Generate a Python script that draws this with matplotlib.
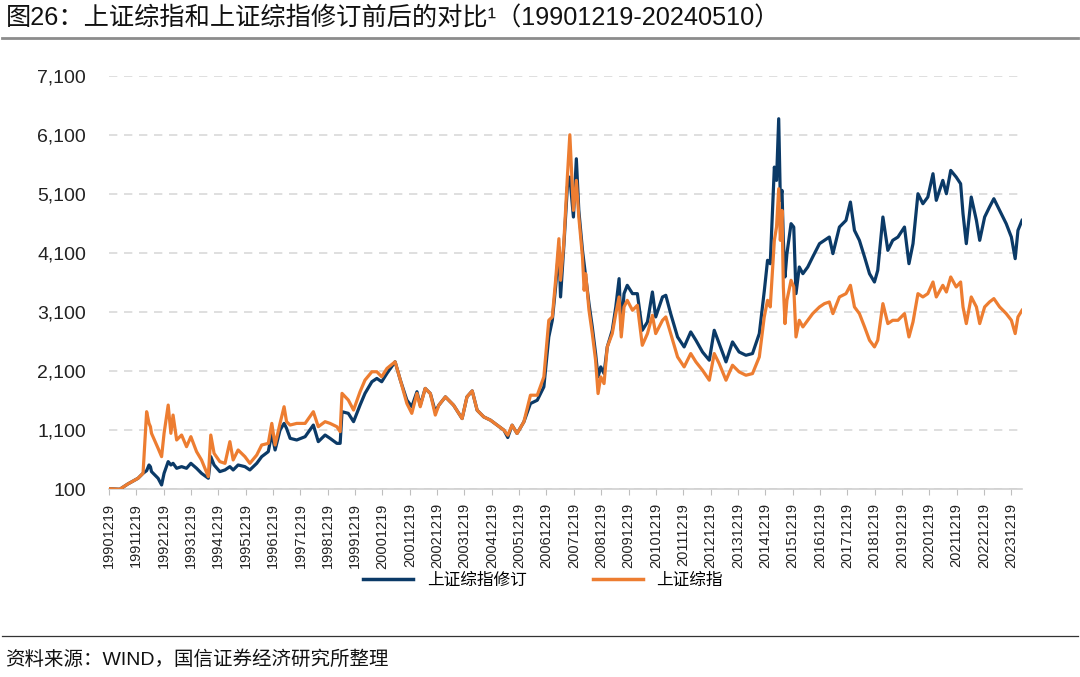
import matplotlib
matplotlib.use("Agg")
import matplotlib.pyplot as plt
from matplotlib.ticker import FuncFormatter, FixedLocator
from matplotlib.lines import Line2D
import pandas as pd

plt.rcParams['font.family'] = ['Liberation Sans', 'Noto Sans CJK SC', 'DejaVu Sans']

title_text = "图26：上证综指和上证综指修订前后的对比¹（19901219-20240510）"
source_text = "资料来源：WIND，国信证券经济研究所整理"
series_names = ["上证综指修订", "上证综指"]

dates = [
    "1990-12-19", "1991-05-12", "1991-08-29", "1992-01-11", "1992-03-18", "1992-05-05",
    "1992-06-06", "1992-06-25", "1992-07-09", "1992-10-05", "1992-11-21", "1992-12-24",
    "1993-02-17", "1993-03-25", "1993-04-23", "1993-06-10", "1993-08-15", "1993-10-20",
    "1993-12-17", "1994-03-03", "1994-05-08", "1994-08-07", "1994-09-09", "1994-10-23",
    "1995-01-08", "1995-03-18", "1995-05-22", "1995-07-05", "1995-09-09", "1995-12-09",
    "1996-02-13", "1996-05-15", "1996-07-20", "1996-10-16", "1996-12-02", "1997-01-15",
    "1997-03-22", "1997-05-15", "1997-06-17", "1997-08-04", "1997-10-31", "1998-02-20",
    "1998-06-10", "1998-08-15", "1998-11-14", "1999-01-19", "1999-04-20", "1999-06-03",
    "1999-06-28", "1999-09-20", "1999-11-29", "2000-02-24", "2000-04-30", "2000-07-31",
    "2000-10-05", "2000-12-09", "2001-02-17", "2001-06-06", "2001-08-15", "2001-11-10",
    "2002-01-15", "2002-03-25", "2002-05-08", "2002-07-13", "2002-09-20", "2002-11-25",
    "2003-01-11", "2003-04-09", "2003-07-27", "2003-11-18", "2004-01-22", "2004-04-01",
    "2004-06-06", "2004-09-02", "2004-12-02", "2005-02-28", "2005-05-30", "2005-07-20",
    "2005-09-16", "2005-11-21", "2006-02-20", "2006-05-19", "2006-08-18", "2006-11-14",
    "2007-01-19", "2007-03-07", "2007-04-20", "2007-06-03", "2007-06-25", "2007-08-07",
    "2007-09-24", "2007-10-27", "2007-12-14", "2008-01-22", "2008-02-24", "2008-04-13",
    "2008-05-05", "2008-05-26", "2008-07-09", "2008-08-22", "2008-10-05", "2008-11-07",
    "2008-12-13", "2009-01-26", "2009-03-10", "2009-05-16", "2009-07-02", "2009-08-15",
    "2009-09-13", "2009-10-20", "2009-12-02", "2010-02-10", "2010-04-16", "2010-06-21",
    "2010-08-29", "2010-11-03", "2010-12-17", "2011-03-18", "2011-05-01", "2011-07-05",
    "2011-10-05", "2012-01-01", "2012-03-29", "2012-06-06", "2012-09-02", "2012-12-02",
    "2013-02-06", "2013-04-13", "2013-07-13", "2013-10-08", "2014-01-04", "2014-04-05",
    "2014-07-02", "2014-10-01", "2014-12-06", "2015-01-19", "2015-02-24", "2015-04-20",
    "2015-05-19", "2015-06-17", "2015-07-09", "2015-07-31", "2015-08-18", "2015-09-09",
    "2015-10-05", "2015-11-29", "2016-01-04", "2016-02-03", "2016-03-18", "2016-05-05",
    "2016-07-09", "2016-09-13", "2016-12-13", "2017-02-17", "2017-04-23", "2017-06-10",
    "2017-09-05", "2017-12-02", "2018-01-30", "2018-03-25", "2018-05-30", "2018-08-07",
    "2018-10-12", "2018-12-17", "2019-01-30", "2019-04-09", "2019-06-14", "2019-08-18",
    "2019-10-27", "2020-01-22", "2020-03-22", "2020-05-15", "2020-07-20", "2020-09-24",
    "2020-11-29", "2021-02-06", "2021-03-22", "2021-06-17", "2021-08-04", "2021-10-01",
    "2021-12-13", "2022-02-10", "2022-03-14", "2022-04-27", "2022-07-02", "2022-09-09",
    "2022-10-23", "2022-12-28", "2023-03-03", "2023-04-30", "2023-07-16", "2023-10-12",
    "2023-12-20", "2024-02-09", "2024-03-17", "2024-05-10",
]

sse_revised = [
    110, 100, 190, 286, 370, 415,
    511, 480, 399, 286, 173, 370,
    568, 511, 539, 455, 483, 455,
    539, 455, 370, 286, 652, 511,
    399, 427, 483, 427, 511, 483,
    427, 539, 652, 737, 1047, 765,
    1103, 1215, 1131, 962, 934, 990,
    1187, 906, 1018, 962, 877, 877,
    1413, 1385, 1244, 1525, 1723, 1920,
    1976, 1920, 2061, 2258, 1948, 1610,
    1497, 1751, 1520, 1807, 1720, 1413,
    1523, 1664, 1523, 1297, 1664, 1765,
    1438, 1325, 1269, 1185, 1100, 976,
    1185, 1044, 1241, 1551, 1607, 1833,
    2678, 2960, 3524, 4200, 3355, 4200,
    5215, 5384, 4708, 5694, 4820, 4144,
    3919, 3693, 3242, 2848, 2397, 2002,
    2171, 2058, 2509, 2791, 3186, 3665,
    2791, 3411, 3552, 3411, 3411, 2791,
    2932, 3439, 3017, 3355, 3383, 3073,
    2678, 2509, 2763, 2622, 2424, 2284,
    2791, 2566, 2256, 2594, 2424, 2368,
    2397, 2735, 3450, 3975, 3918, 5553,
    5328, 6371, 4990, 5159, 4313, 3693,
    4088, 4595, 4538, 3411, 3862, 3749,
    3862, 4031, 4257, 4313, 4369, 4088,
    4538, 4651, 4961, 4482, 4313, 4031,
    3749, 3608, 3806, 4708, 4144, 4313,
    4369, 4538, 3918, 4257, 5102, 4933,
    5046, 5441, 4990, 5328, 5102, 5497,
    5384, 5271, 4764, 4257, 5046, 4651,
    4313, 4708, 4877, 5018, 4820, 4595,
    4369, 4003, 4482, 4651,
]

sse = [
    110, 100, 190, 286, 370, 1413,
    1215, 1159, 1047, 793, 652, 1047,
    1525, 1047, 1356, 934, 1018, 821,
    990, 737, 596, 314, 1018, 708,
    568, 539, 906, 596, 765, 652,
    539, 680, 849, 877, 1215, 849,
    1215, 1497, 1244, 1187, 1215, 1215,
    1413, 1159, 1244, 1215, 1159, 1075,
    1723, 1610, 1441, 1751, 1948, 2089,
    2089, 2004, 2145, 2258, 1948, 1553,
    1385, 1723, 1497, 1807, 1720, 1356,
    1523, 1664, 1523, 1297, 1664, 1765,
    1438, 1325, 1269, 1185, 1100, 1015,
    1185, 1044, 1241, 1692, 1692, 2002,
    2960, 3017, 3637, 4341, 3637, 4257,
    5384, 6100, 4820, 5328, 4708, 4031,
    3468, 3749, 3129, 2735, 2284, 1720,
    2002, 1889, 2509, 2735, 3073, 3355,
    2678, 3186, 3298, 3129, 3214, 2537,
    2735, 3045, 2735, 2960, 3017, 2735,
    2340, 2171, 2397, 2256, 2115, 1946,
    2397, 2227, 1946, 2199, 2087, 2030,
    2058, 2340, 3017, 3298, 3186, 4313,
    4539, 5187, 4313, 4820, 3524, 2904,
    3298, 3637, 3524, 2678, 2960, 2848,
    2960, 3073, 3186, 3242, 3270, 3073,
    3355, 3411, 3552, 3186, 3073, 2848,
    2622, 2509, 2622, 3242, 2904, 2960,
    2960, 3073, 2678, 2932, 3411, 3355,
    3411, 3608, 3355, 3552, 3439, 3693,
    3524, 3608, 3186, 2904, 3355, 3186,
    2904, 3186, 3270, 3327, 3186, 3073,
    2960, 2735, 3017, 3129,
]

y_ticks = [100, 1100, 2100, 3100, 4100, 5100, 6100, 7100]
x_tick_years = list(range(1990, 2024))

blue = "#0B3A67"
orange = "#ED7D31"

d = pd.to_datetime(dates)

fig = plt.figure(figsize=(10.8, 6.77), dpi=100)
ax = fig.add_axes([0.1009, 0.2773, 0.8454, 0.6109])

ax.plot(d, sse_revised, color=blue, lw=2.3, zorder=3)
ax.plot(d, sse, color=orange, lw=2.3, zorder=4)

ax.set_xlim(pd.Timestamp("1990-12-19"), pd.Timestamp("2024-05-10"))
ax.set_ylim(100, 7100)

ax.yaxis.set_major_locator(FixedLocator(y_ticks))
ax.yaxis.set_major_formatter(FuncFormatter(lambda v, p: f"{int(v):,}"))
ax.tick_params(axis='y', length=0, pad=16.5, labelsize=14, labelcolor="#222222")
ax.grid(axis='y', color="#d9d9d9", linestyle=(0, (5, 4)), linewidth=1.2)

xt = [pd.Timestamp(f"{y}-12-19") for y in x_tick_years]
ax.set_xticks(xt)
ax.set_xticklabels([f"{y}1219" for y in x_tick_years], rotation=90)
ax.tick_params(axis='x', length=4, color="#bfbfbf", labelsize=10.5, pad=6, labelcolor="#222222")

for s in ["top", "right", "left"]:
    ax.spines[s].set_visible(False)
ax.spines["bottom"].set_color("#d0d0d0")
ax.spines["bottom"].set_linewidth(1.2)

handles = [Line2D([0], [0], color=blue, lw=2.5), Line2D([0], [0], color=orange, lw=2.5)]
fig.legend(handles, series_names, loc="center", bbox_to_anchor=(0.503, 0.143), ncol=2,
           frameon=False, handlelength=3.0, columnspacing=4.0,
           prop={'family': ['Noto Sans CJK SC'], 'size': 12})

fig.text(0.005, 0.973, title_text, fontsize=18.2, va="center", ha="left", color="#111111",
         family=['Liberation Sans', 'Noto Sans CJK SC'])
fig.add_artist(Line2D([0.002, 0.998], [1 - 38 / 677, 1 - 38 / 677], color="#8c8c8c", lw=2.0))
fig.add_artist(Line2D([0.002, 0.998], [1 - 636 / 677, 1 - 636 / 677], color="#333333", lw=0.9))
fig.text(0.005, 1 - 660 / 677, source_text, fontsize=14, va="center", ha="left", color="#111111",
         family=['Liberation Sans', 'Noto Sans CJK SC'])

fig.savefig("out.png", dpi=100)
